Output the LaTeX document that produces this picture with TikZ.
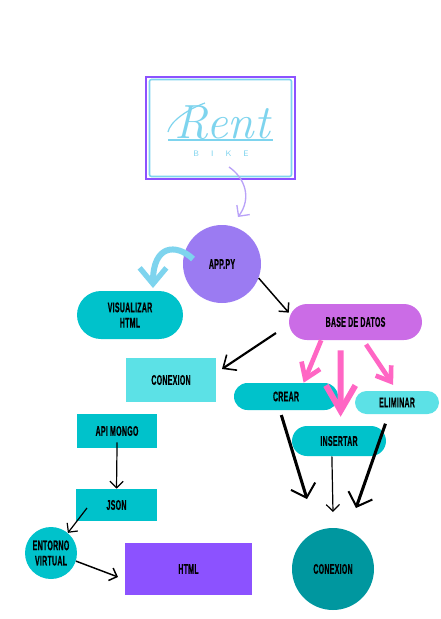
\documentclass[tikz,border=0pt]{standalone}
\usepackage{fontspec}
\usetikzlibrary{arrows.meta}
\newfontfamily\labelfont[FakeStretch=0.5,LetterSpace=2,BoldFeatures={FakeBold=0.6}]{Liberation Sans}
\newcommand{\px}{0.75pt}
\definecolor{tealbox}{HTML}{00C2CB}
\definecolor{cyanbox}{HTML}{5CE1E6}
\definecolor{purplebox}{HTML}{8C52FF}
\definecolor{violetbox}{HTML}{CB6CE6}
\definecolor{lilaccircle}{HTML}{9B7BF2}
\definecolor{darkcircle}{HTML}{00979F}
\definecolor{pinkline}{HTML}{FF66C4}
\definecolor{skyline}{HTML}{7ED4EE}
\definecolor{lavline}{HTML}{B9A2F8}
\tikzset{
	labeltext/.style={font=\labelfont\bfseries\fontsize{10.5}{11.5}\selectfont, align=center, text=black, inner sep=0pt},
	boxnode/.style 2 args={labeltext, rectangle, minimum width=#1*\px, minimum height=#2*\px},
	pillnode/.style 2 args={boxnode={#1}{#2}, rounded corners=#2*0.5*\px},
	dotnode/.style={labeltext, circle, minimum size=#1*\px},
	inkthin/.style={black, line width=0.9pt, -{Straight Barb[length=5pt,width=10pt]}},
	inkmid/.style={black, line width=1.1pt, -{Straight Barb[length=5pt,width=10pt]}},
	inkwide/.style={black, line width=1.6pt, -{Straight Barb[length=8pt,width=14pt,line width=1.2pt]}},
	inkbold/.style={black, line width=2.3pt, -{Straight Barb[length=9pt,width=19pt,line width=1.5pt]}},
	pinkarrow/.style n args={3}{pinkline, line width=#1, -{Straight Barb[length=#2,width=#3]}}
}
\begin{document}
\begin{tikzpicture}[x=\px, y=-\px]
	\useasboundingbox (0, 0) rectangle (441, 619);

	% logo
	\node[boxnode={149}{102}, draw=purplebox, line width=2pt] (logo) at (220.5, 128) {};
	\node[boxnode={142}{97}, draw=skyline, fill=white, line width=1.2pt, rounded corners=1.5pt] (logoframe) at (220.5, 128) {};
	\node[font=\itshape\fontsize{36}{36}\selectfont, text=skyline, inner sep=0pt, anchor=base] (rent) at (222, 138) {Rent};
	\node[font=\sffamily\fontsize{6}{6}\selectfont, text=skyline, inner sep=0pt] (bike) at (221, 154) {B\hspace{9pt}I\hspace{9pt}K\hspace{9pt}E};
	\coordinate (rulea) at (168, 140);
	\coordinate (ruleb) at (273, 140);
	\coordinate (swasha) at (168, 132);
	\coordinate (swashb) at (205, 103);
	\draw[skyline, line width=0.8pt] (rulea) -- (ruleb);
	\draw[skyline, line width=0.9pt] (swasha) .. controls (170, 122) and (186, 110) .. (swashb);

	% upper nodes
	\node[dotnode=78, fill=lilaccircle] (app) at (222, 264) {APP.PY};
	\node[pillnode={106}{48}, fill=tealbox] (visualizar) at (130, 315) {VISUALIZAR\\HTML};
	\node[boxnode={90}{44}, fill=cyanbox] (conexionbox) at (171, 380) {CONEXION};
	\node[pillnode={133}{36}, fill=violetbox] (base) at (355.5, 322) {BASE DE DATOS};
	\node[pillnode={104}{27}, fill=tealbox] (crear) at (286, 396.5) {CREAR};
	\node[pillnode={84}{23}, fill=cyanbox] (eliminar) at (397, 402.5) {ELIMINAR};
	\node[pillnode={94}{30}, fill=tealbox] (insertar) at (339, 441) {INSERTAR};

	% lower nodes
	\node[boxnode={80}{34}, fill=tealbox] (api) at (117, 431) {API MONGO};
	\node[boxnode={81}{32}, fill=tealbox] (json) at (116.5, 505) {JSON};
	\node[dotnode=52, fill=tealbox] (entorno) at (51, 553) {ENTORNO\\VIRTUAL};
	\node[boxnode={127}{52}, fill=purplebox] (html) at (188.5, 569) {HTML};
	\node[dotnode=82, fill=darkcircle] (conexioncircle) at (333, 569) {CONEXION};

	% free ends
	\coordinate (logoout) at (229, 167);
	\coordinate (appin) at (238, 217);
	\coordinate (appout) at (193, 259);
	\coordinate (visualin) at (153, 288);
	\coordinate (baseout) at (276, 333);
	\coordinate (conexionin) at (222, 369);
	\coordinate (jsonout) at (87, 508);
	\coordinate (htmlin) at (118, 577);
	\coordinate (mergea) at (307, 499);
	\coordinate (mergeb) at (333, 512);
	\coordinate (mergec) at (356, 508);

	% drawing connectors
	\draw[lavline, line width=1pt, -{Straight Barb[length=6pt,width=12pt]}] (logoout) .. controls (245, 178) and (252, 198) .. (appin);
	\draw[skyline, line width=4.5pt, -{Straight Barb[length=12pt,width=20pt,line width=4pt]}] (appout) .. controls (176, 243) and (153, 245) .. (visualin);
	\draw[inkmid] (app.-21) -- (base.172);
	\draw[inkwide] (baseout) -- (conexionin);

	\draw[pinkarrow={3.5pt}{11pt}{15pt}] (base.-152) -- (crear.38);
	\draw[pinkarrow={4.5pt}{19pt}{22pt}, shorten <=10*\px, shorten >=9*\px] (base.-129) -- (insertar.84);
	\draw[pinkarrow={3.5pt}{10pt}{14pt}, shorten <=5*\px, shorten >=7*\px] (base.-67) -- (eliminar.90);

	\draw[inkbold, shorten <=5*\px] (crear.-114) -- (mergea);
	\draw[inkthin] (insertar.-115) -- (mergeb);
	\draw[inkbold, shorten <=10*\px] (eliminar.-125) -- (mergec);

	\draw[inkthin, shorten <=-6*\px] (api.south) -- (json.north);
	\draw[inkthin] (jsonout) -- (entorno.50);
	\draw[inkmid] (entorno.-18) -- (htmlin);
\end{tikzpicture}
\end{document}
